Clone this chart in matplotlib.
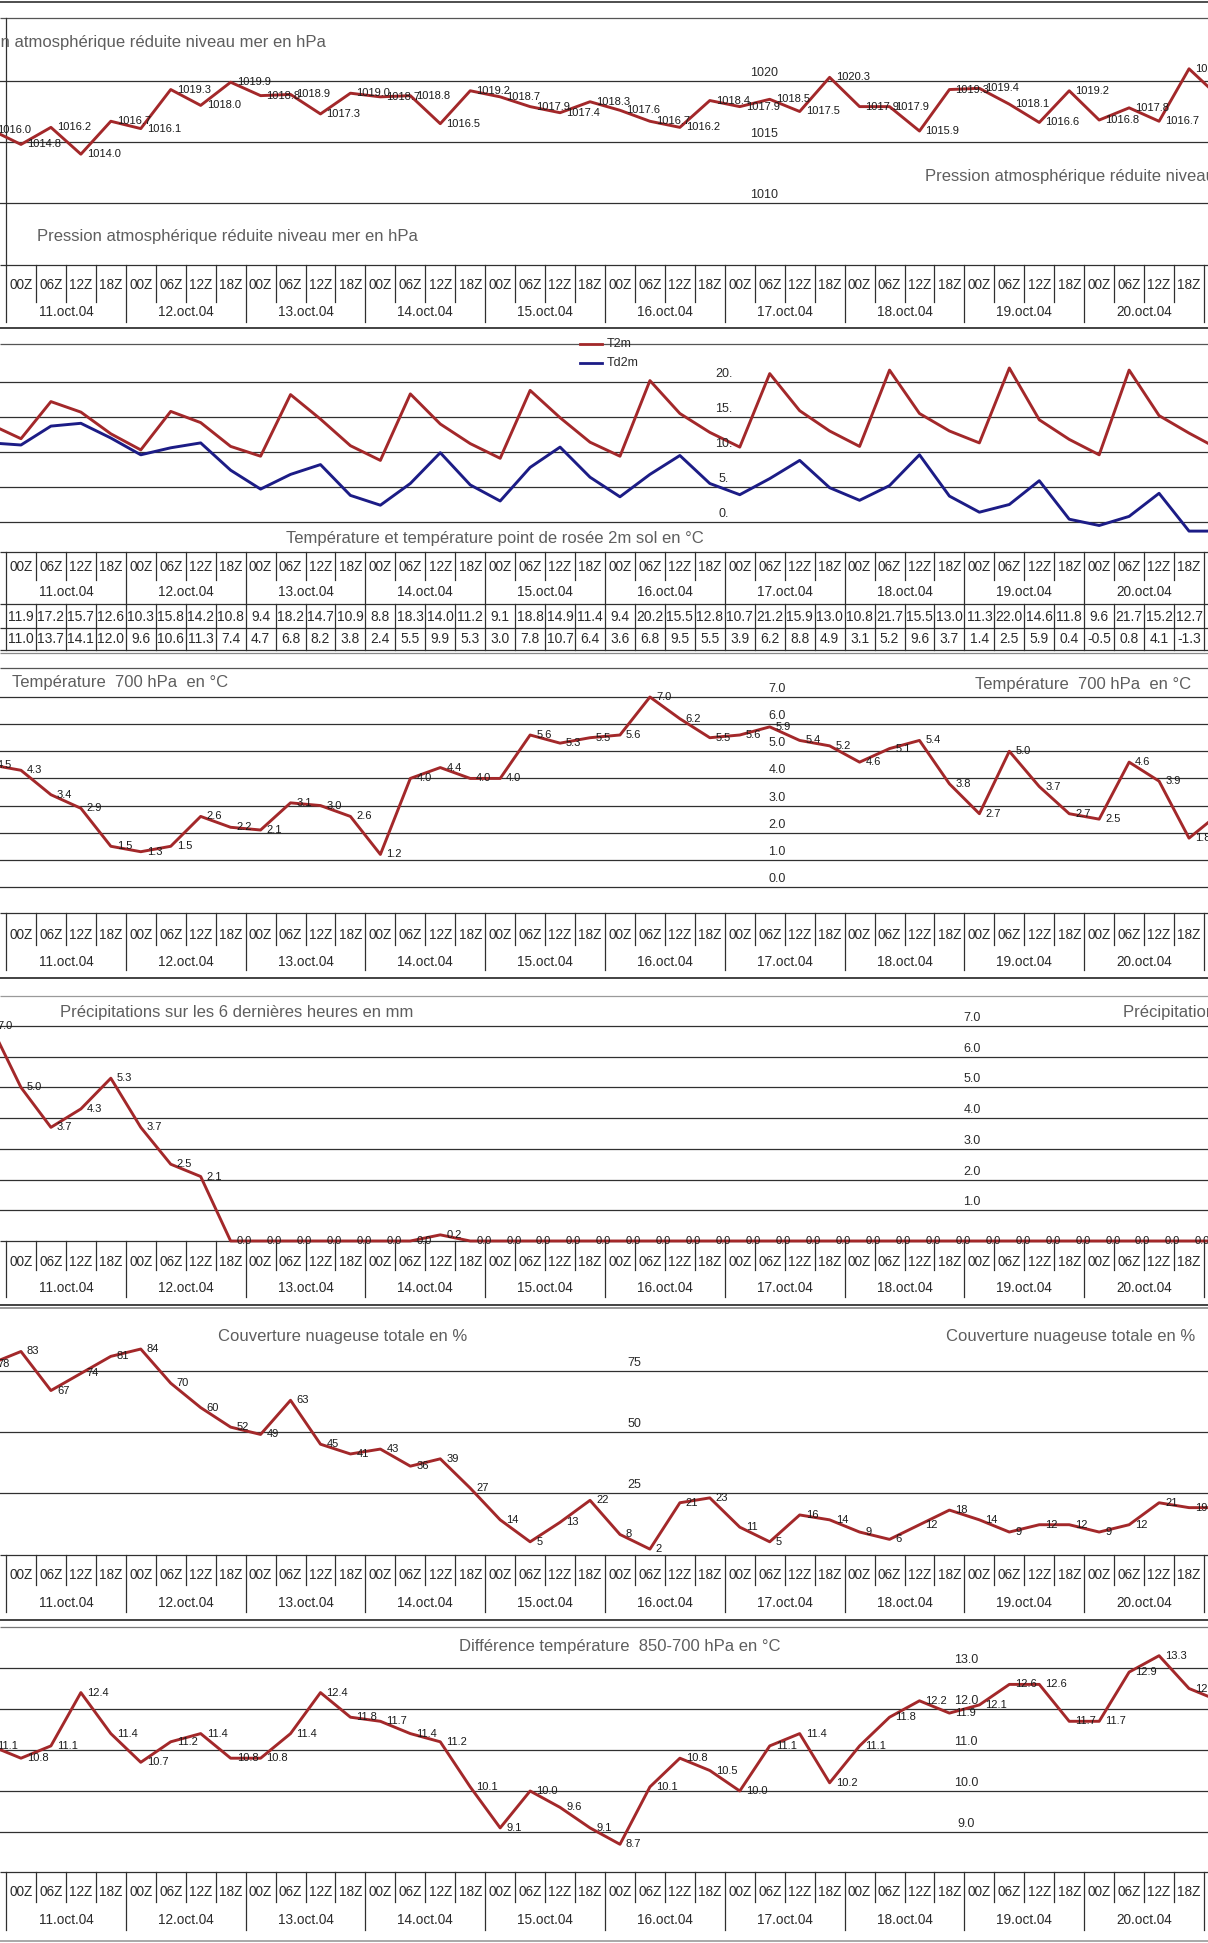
import numpy as np
import matplotlib
matplotlib.use('Agg')
import matplotlib.pyplot as plt

plt.rcParams['font.family'] = ['Liberation Sans', 'DejaVu Sans']

W, H = 1208, 1943

# ---- données ----
# premier et dernier point de chaque série : 18Z du 10.oct et 00Z du 21.oct, coupés aux bords
jours = ['11.oct.04', '12.oct.04', '13.oct.04', '14.oct.04', '15.oct.04',
         '16.oct.04', '17.oct.04', '18.oct.04', '19.oct.04', '20.oct.04']
heures = ['00Z', '06Z', '12Z', '18Z']

pression = [1016.0, 1014.8, 1016.2, 1014.0, 1016.7, 1016.1, 1019.3, 1018.0, 1019.9, 1018.8,
            1018.9, 1017.3, 1019.0, 1018.7, 1018.8, 1016.5, 1019.2, 1018.7, 1017.9, 1017.4,
            1018.3, 1017.6, 1016.7, 1016.2, 1018.4, 1017.9, 1018.5, 1017.5, 1020.3, 1017.9,
            1017.9, 1015.9, 1019.3, 1019.4, 1018.1, 1016.6, 1019.2, 1016.8, 1017.8, 1016.7,
            1021.0, 1018.7]

t2m = [13.9,
       11.9, 17.2, 15.7, 12.6, 10.3, 15.8, 14.2, 10.8, 9.4, 18.2, 14.7, 10.9, 8.8, 18.3, 14.0, 11.2,
       9.1, 18.8, 14.9, 11.4, 9.4, 20.2, 15.5, 12.8, 10.7, 21.2, 15.9, 13.0, 10.8, 21.7, 15.5, 13.0,
       11.3, 22.0, 14.6, 11.8, 9.6, 21.7, 15.2, 12.7,
       10.4]
td2m = [11.3,
        11.0, 13.7, 14.1, 12.0, 9.6, 10.6, 11.3, 7.4, 4.7, 6.8, 8.2, 3.8, 2.4, 5.5, 9.9, 5.3,
        3.0, 7.8, 10.7, 6.4, 3.6, 6.8, 9.5, 5.5, 3.9, 6.2, 8.8, 4.9, 3.1, 5.2, 9.6, 3.7,
        1.4, 2.5, 5.9, 0.4, -0.5, 0.8, 4.1, -1.3,
        -1.3]

t700 = [4.5, 4.3, 3.4, 2.9, 1.5, 1.3, 1.5, 2.6, 2.2, 2.1, 3.1, 3.0, 2.6, 1.2, 4.0, 4.4, 4.0, 4.0,
        5.6, 5.3, 5.5, 5.6, 7.0, 6.2, 5.5, 5.6, 5.9, 5.4, 5.2, 4.6, 5.1, 5.4, 3.8, 2.7, 5.0, 3.7,
        2.7, 2.5, 4.6, 3.9, 1.8, 2.7]

precip = [7.0, 5.0, 3.7, 4.3, 5.3, 3.7, 2.5, 2.1, 0.0, 0.0, 0.0, 0.0, 0.0, 0.0, 0.0, 0.2,
          0.0, 0.0, 0.0, 0.0, 0.0, 0.0, 0.0, 0.0, 0.0, 0.0, 0.0, 0.0, 0.0, 0.0, 0.0, 0.0,
          0.0, 0.0, 0.0, 0.0, 0.0, 0.0, 0.0, 0.0, 0.0, 0.0]

nuages = [78, 83, 67, 74, 81, 84, 70, 60, 52, 49, 63, 45, 41, 43, 36, 39, 27, 14, 5, 13, 22,
          8, 2, 21, 23, 11, 5, 16, 14, 9, 6, 12, 18, 14, 9, 12, 12, 9, 12, 21, 19, 19]

diff_t = [11.1, 10.8, 11.1, 12.4, 11.4, 10.7, 11.2, 11.4, 10.8, 10.8, 11.4, 12.4, 11.8, 11.7,
          11.4, 11.2, 10.1, 9.1, 10.0, 9.6, 9.1, 8.7, 10.1, 10.8, 10.5, 10.0, 11.1, 11.4, 10.2,
          11.1, 11.8, 12.2, 11.9, 12.1, 12.6, 12.6, 11.7, 11.7, 12.9, 13.3, 12.5, 12.2]

# ---- style ----
ROUGE = '#a3282a'
BLEU = '#1c1c86'
GRILLE = '#303030'
GRIS_TITRE = '#5e5e5e'
TEXTE = '#2a2a2a'

X0, CW = 6.0, 29.95   # bord gauche du tableau et largeur d'une colonne (px)


def px2col(px):
    return (px - X0 - CW / 2) / CW


fig = plt.figure(figsize=(W / 100, H / 100), dpi=100)
base = fig.add_axes([0, 0, 1, 1])
base.set_xlim(0, W)
base.set_ylim(H, 0)
base.axis('off')


def hline(y, color=GRILLE, lw=0.9, x1=0, x2=W):
    base.plot([x1, x2], [y, y], color=color, lw=lw, solid_capstyle='butt')


def make_chart(top, bottom, v_a, px_a, v_b, px_b):
    ax = fig.add_axes([0, 1 - bottom / H, 1, (bottom - top) / H])
    k = (px_b - px_a) / (v_a - v_b)
    ax.set_ylim(v_a - (bottom - px_a) / k, v_a + (px_a - top) / k)
    ax.set_xlim(px2col(0), px2col(W))
    ax.axis('off')
    ax.patch.set_alpha(0)
    return ax


def grid_labels(ax, valeurs, textes, xpx):
    for v, t in zip(valeurs, textes):
        ax.axhline(v, color=GRILLE, lw=0.9)
        ax.annotate(t, (px2col(xpx), v), xytext=(0, 2), textcoords='offset pixels',
                    ha='center', va='bottom', fontsize=9, color=TEXTE)


def serie(ax, valeurs, fmt, color=ROUGE, etiquettes=True):
    x = np.arange(-1, len(valeurs) - 1)
    ax.plot(x, valeurs, color=color, lw=2.1, clip_on=True)
    if etiquettes:
        for xi, v in zip(x, valeurs):
            ax.annotate(fmt.format(v), (xi, v), xytext=(6, 0), textcoords='offset pixels',
                        ha='left', va='center', fontsize=8, color='#1a1a1a',
                        annotation_clip=False)


def tableau(top, t_txt, t_sep, d_txt, d_sep, fonds):
    hline(top)
    for c in range(41):
        x = X0 + CW * c
        y2 = d_sep if c % 4 == 0 else t_sep
        base.plot([x, x], [top, y2], color=GRILLE, lw=0.9)
    for c in range(40):
        base.text(X0 + CW * (c + 0.5), t_txt, heures[c % 4], ha='center', va='center',
                  fontsize=9.8, color=TEXTE)
    for d, j in enumerate(jours):
        base.text(X0 + CW * (4 * d + 2), d_txt, j, ha='center', va='center',
                  fontsize=9.8, color=TEXTE)
    for y, col in fonds:
        hline(y, color=col, lw=1.2)


def titre(x, y, txt, ha='left'):
    base.text(x, y, txt, ha=ha, va='center', fontsize=12, color=GRIS_TITRE)


# ---- 1. pression ----
hline(2, lw=1.2)
hline(18, color='#555555')
base.plot([X0, X0], [18, 265], color=GRILLE, lw=0.9)
ax1 = make_chart(18, 265, 1020, 81, 1010, 203)
grid_labels(ax1, [1020, 1015, 1010], ['1020', '1015', '1010'], 764)
serie(ax1, pression, '{:.1f}')
txt_p = 'Pression atmosphérique réduite niveau mer en hPa'
titre(326, 43, txt_p, ha='right')
titre(37, 237, txt_p)
titre(925, 177, txt_p)
tableau(265, 285, 302, 312, 322, [(328, '#222222')])

# ---- 2. T2m / Td2m ----
hline(344, color='#555555')
ax2 = make_chart(344, 552, 20, 382, 0, 522)
grid_labels(ax2, [20, 15, 10, 5, 0], ['20.', '15.', '10.', '5.', '0.'], 724)
serie(ax2, t2m, '{:.1f}', etiquettes=False)
serie(ax2, td2m, '{:.1f}', color=BLEU, etiquettes=False)
base.plot([580, 602], [344, 344], color=ROUGE, lw=2)
base.plot([580, 602], [363, 363], color=BLEU, lw=2)
base.text(607, 344, 'T2m', ha='left', va='center', fontsize=9, color=TEXTE)
base.text(607, 363, 'Td2m', ha='left', va='center', fontsize=9, color=TEXTE)
titre(495, 538, 'Température et température point de rosée 2m sol en °C', ha='center')
tableau(552, 567, 580, 592, 604, [])
for y in (604, 628, 650):
    hline(y)
hline(653, color='#8a8a8a')
for c in range(41):
    x = X0 + CW * c
    base.plot([x, x], [604, 650], color=GRILLE, lw=0.9)
for c in range(40):
    xc = X0 + CW * (c + 0.5)
    base.text(xc, 617, f'{t2m[c + 1]:.1f}', ha='center', va='center', fontsize=10, color=TEXTE)
    base.text(xc, 639, f'{td2m[c + 1]:.1f}', ha='center', va='center', fontsize=10, color=TEXTE)

# ---- 3. température 700 hPa ----
hline(668, color='#555555')
ax3 = make_chart(668, 913, 7, 697, 0, 887)
grid_labels(ax3, [7, 6, 5, 4, 3, 2, 1, 0], [f'{v:.1f}' for v in range(7, -1, -1)], 777)
serie(ax3, t700, '{:.1f}')
titre(12, 682, 'Température  700 hPa  en °C')
titre(975, 684, 'Température  700 hPa  en °C')
tableau(913, 935, 945, 962, 970, [(978, '#222222')])

# ---- 4. précipitations ----
hline(996, color='#9a9a9a')
ax4 = make_chart(996, 1250, 7, 1026, 0, 1241)
grid_labels(ax4, [7, 6, 5, 4, 3, 2, 1], [f'{v:.1f}' for v in range(7, 0, -1)], 972)
serie(ax4, precip, '{:.1f}')
titre(60, 1012, 'Précipitations sur les 6 dernières heures en mm')
titre(1123, 1012, 'Précipitations sur les 6 dernières heures en mm')
tableau(1241, 1262, 1270, 1288, 1297, [(1305, '#222222'), (1308, '#8a8a8a')])

# ---- 5. couverture nuageuse ----
ax5 = make_chart(1310, 1565, 75, 1371, 25, 1493)
grid_labels(ax5, [75, 50, 25], ['75', '50', '25'], 634)
serie(ax5, nuages, '{:d}')
titre(218, 1336, 'Couverture nuageuse totale en %')
titre(946, 1336, 'Couverture nuageuse totale en %')
tableau(1555, 1575, 1585, 1603, 1612, [(1620, '#222222')])

# ---- 6. différence 850-700 ----
hline(1627, color='#777777')
ax6 = make_chart(1627, 1872, 13, 1668, 9, 1832)
grid_labels(ax6, [13, 12, 11, 10, 9], ['13.0', '12.0', '11.0', '10.0', '9.0'], 966)
serie(ax6, diff_t, '{:.1f}')
titre(459, 1647, 'Différence température  850-700 hPa en °C')
tableau(1872, 1892, 1902, 1920, 1930, [(1941, '#9a9a9a')])

fig.savefig('out.png', dpi=100)
